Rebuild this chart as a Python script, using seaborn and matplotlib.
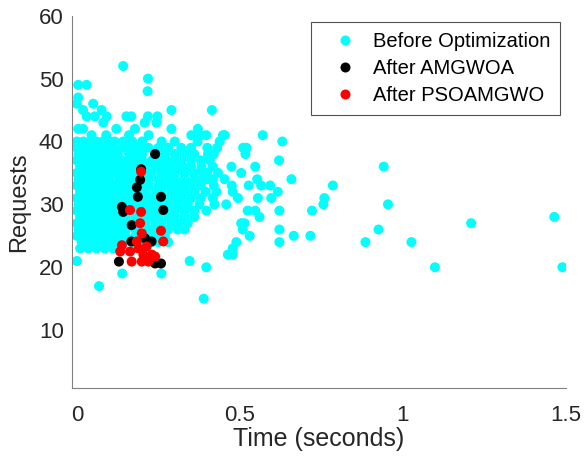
import numpy as np
import pandas as pd
import matplotlib
matplotlib.use("Agg")
import matplotlib.pyplot as plt
import seaborn as sns

# Response time (s) and request count for each run, before optimisation
before_time = [
    0.142,
    0.218,
    0.004, 0.030,
    0.217,
    0.004,
    0.000, 0.050,
    0.019, 0.076, 0.290, 0.414,
    0.030, 0.055, 0.091, 0.152, 0.167, 0.218, 0.247,
    0.081, 0.208, 0.244,
    0.004, 0.019, 0.121, 0.178, 0.290, 0.371,
    0.045, 0.351, 0.380, 0.397, 0.448, 0.453, 0.570,
    0.000, 0.020, 0.040, 0.060, 0.080, 0.100, 0.116, 0.142, 0.438, 0.630,
    0.000, 0.020, 0.045, 0.070, 0.090, 0.115, 0.140, 0.220, 0.250, 0.350, 0.400, 0.430, 0.510, 0.520,
    0.005, 0.030, 0.050, 0.075, 0.100, 0.125, 0.160, 0.240, 0.330, 0.360, 0.402, 0.420, 0.517,
    0.000, 0.020, 0.040, 0.065, 0.085, 0.110, 0.135, 0.155, 0.180, 0.275, 0.350, 0.407, 0.620,
    0.010, 0.035, 0.060, 0.080, 0.100, 0.125, 0.150, 0.170, 0.285, 0.315, 0.325, 0.382, 0.417, 0.474, 0.547, 0.941,
    0.000, 0.025, 0.050, 0.070, 0.095, 0.120, 0.140, 0.165, 0.190, 0.260, 0.300, 0.360, 0.433, 0.504, 0.382,
    0.005, 0.030, 0.055, 0.080, 0.100, 0.130, 0.150, 0.175, 0.250, 0.280, 0.330, 0.380, 0.417, 0.453, 0.553, 0.658,
    0.000, 0.020, 0.045, 0.070, 0.090, 0.115, 0.140, 0.160, 0.220, 0.270, 0.310, 0.350, 0.475, 0.527, 0.565, 0.593, 0.785,
    0.010, 0.035, 0.060, 0.085, 0.105, 0.130, 0.150, 0.210, 0.240, 0.290, 0.330, 0.395, 0.428, 0.478, 0.616,
    0.000, 0.025, 0.050, 0.070, 0.095, 0.120, 0.145, 0.170, 0.220, 0.300, 0.320, 0.350, 0.417, 0.494, 0.555, 0.596, 0.759,
    0.005, 0.030, 0.055, 0.080, 0.100, 0.125, 0.150, 0.180, 0.250, 0.280, 0.310, 0.376, 0.422, 0.458, 0.756, 0.954,
    0.000, 0.020, 0.045, 0.065, 0.090, 0.110, 0.135, 0.210, 0.270, 0.330, 0.397, 0.524, 0.547, 0.621, 0.721,
    0.010, 0.035, 0.060, 0.080, 0.105, 0.130, 0.230, 0.300, 0.360, 0.560, 1.464,
    0.000, 0.025, 0.050, 0.070, 0.095, 0.120, 0.160, 0.240, 0.290, 0.340, 0.504, 0.514, 1.209,
    0.005, 0.030, 0.055, 0.080, 0.100, 0.125, 0.220, 0.280, 0.310, 0.509, 0.621, 0.925,
    0.000, 0.020, 0.045, 0.070, 0.090, 0.115, 0.150, 0.200, 0.270, 0.530, 0.665, 0.716,
    0.015, 0.040, 0.060, 0.085, 0.110, 0.140, 0.250, 0.489, 0.621, 0.885, 1.026,
    0.010, 0.035, 0.060, 0.478,
    0.463, 0.478,
    0.000, 0.346,
    0.397, 1.098, 1.489,
    0.139, 0.259,
    0.068,
    0.389,
    # runs in the 0.13-0.42 s band
    0.090, 0.160, 0.220,
    0.170, 0.200, 0.260, 0.300, 0.370,
    0.165, 0.190, 0.280, 0.320,
    0.180, 0.200, 0.270, 0.300,
    0.200, 0.230, 0.250, 0.300, 0.320, 0.380,
    0.190, 0.210, 0.240, 0.260, 0.350,
    0.210, 0.230, 0.280, 0.330, 0.400,
    0.200, 0.220, 0.300, 0.360, 0.400,
    0.180, 0.200, 0.250, 0.290, 0.330, 0.380, 0.420,
    0.170, 0.190, 0.260, 0.310, 0.360,
    0.200, 0.240, 0.270, 0.380,
    0.170, 0.200, 0.220, 0.340,
    0.160, 0.180, 0.230, 0.250, 0.300, 0.360,
    0.150, 0.180, 0.210, 0.250, 0.280, 0.330,
    0.140, 0.180, 0.210, 0.260, 0.310,
    0.150, 0.180, 0.250, 0.330,
    0.130, 0.180, 0.230, 0.250,
    0.170, 0.200, 0.230, 0.280,
    0.085, 0.110,
]
before_req = [
    52,
    50,
    49, 49,
    48,
    47,
    46, 46,
    45, 45, 45, 45,
    44, 44, 44, 44, 44, 44, 44,
    43, 43, 43,
    42, 42, 42, 42, 42, 42,
    41, 41, 41, 41, 41, 41, 41,
    40, 40, 40, 40, 40, 40, 40, 40, 40, 40,
    39, 39, 39, 39, 39, 39, 39, 39, 39, 39, 39, 39, 39, 39,
    38, 38, 38, 38, 38, 38, 38, 38, 38, 38, 38, 38, 38,
    37, 37, 37, 37, 37, 37, 37, 37, 37, 37, 37, 37, 37,
    36, 36, 36, 36, 36, 36, 36, 36, 36, 36, 36, 36, 36, 36, 36, 36,
    35, 35, 35, 35, 35, 35, 35, 35, 35, 35, 35, 35, 35, 35, 35,
    34, 34, 34, 34, 34, 34, 34, 34, 34, 34, 34, 34, 34, 34, 34, 34,
    33, 33, 33, 33, 33, 33, 33, 33, 33, 33, 33, 33, 33, 33, 33, 33, 33,
    32, 32, 32, 32, 32, 32, 32, 32, 32, 32, 32, 32, 32, 32, 32,
    31, 31, 31, 31, 31, 31, 31, 31, 31, 31, 31, 31, 31, 31, 31, 31, 31,
    30, 30, 30, 30, 30, 30, 30, 30, 30, 30, 30, 30, 30, 30, 30, 30,
    29, 29, 29, 29, 29, 29, 29, 29, 29, 29, 29, 29, 29, 29, 29,
    28, 28, 28, 28, 28, 28, 28, 28, 28, 28, 28,
    27, 27, 27, 27, 27, 27, 27, 27, 27, 27, 27, 27, 27,
    26, 26, 26, 26, 26, 26, 26, 26, 26, 26, 26, 26,
    25, 25, 25, 25, 25, 25, 25, 25, 25, 25, 25, 25,
    24, 24, 24, 24, 24, 24, 24, 24, 24, 24, 24,
    23, 23, 23, 23,
    22, 22,
    21, 21,
    20, 20, 20,
    19, 19,
    17,
    15,
    # runs in the 0.13-0.42 s band
    41, 41, 41,
    40, 40, 40, 40, 40,
    39, 39, 39, 39,
    38, 38, 38, 38,
    37, 37, 37, 37, 37, 37,
    36, 36, 36, 36, 36,
    35, 35, 35, 35, 35,
    34, 34, 34, 34, 34,
    33, 33, 33, 33, 33, 33, 33,
    32, 32, 32, 32, 32,
    31, 31, 31, 31,
    30, 30, 30, 30,
    29, 29, 29, 29, 29, 29,
    28, 28, 28, 28, 28, 28,
    27, 27, 27, 27, 27,
    26, 26, 26, 26,
    25, 25, 25, 25,
    24, 24, 24, 24,
    23, 23,
]

# After AMGWOA
amgwoa_time = [0.240, 0.197, 0.194, 0.184, 0.187, 0.258, 0.138, 0.142,
               0.265, 0.168, 0.167, 0.209, 0.229, 0.129, 0.240, 0.258]
amgwoa_req = [38, 35.6, 33.9, 32.7, 31.2, 31.2, 29.6, 28.8,
              29.1, 26.7, 24.1, 24.6, 24.1, 20.9, 20.6, 20.6]

# After PSOAMGWO
pso_time = [0.197, 0.163, 0.197, 0.194, 0.199, 0.258, 0.265, 0.138, 0.133, 0.163,
            0.189, 0.204, 0.230, 0.168, 0.199, 0.219, 0.240, 0.184, 0.214]
pso_req = [35.2, 29.1, 28.8, 27.0, 25.4, 25.8, 24.1, 23.5, 22.5, 22.5,
           23.0, 22.0, 22.0, 20.9, 20.9, 20.9, 21.7, 24.1, 23.3]

groups = ["Before Optimization", "After AMGWOA", "After PSOAMGWO"]
colors = ["#00FFFF", "#000000", "#FF0000"]

df = pd.concat([
    pd.DataFrame({"Time": before_time, "Requests": before_req, "Group": groups[0]}),
    pd.DataFrame({"Time": amgwoa_time, "Requests": amgwoa_req, "Group": groups[1]}),
    pd.DataFrame({"Time": pso_time, "Requests": pso_req, "Group": groups[2]}),
], ignore_index=True)

sns.set_style("white")
plt.rcParams["font.family"] = ["Liberation Sans", "DejaVu Sans"]

fig = plt.figure(figsize=(5.88, 4.62), dpi=100)
ax = fig.add_axes([0.1224, 0.1602, 0.8402, 0.8058])

sns.scatterplot(data=df, x="Time", y="Requests", hue="Group", hue_order=groups,
                palette=dict(zip(groups, colors)), s=52, linewidth=0, alpha=1,
                ax=ax, legend=True)

ax.set_xlim(-0.015, 1.5)
ax.set_ylim(0.8, 60)
ax.set_xticks([0, 0.5, 1, 1.5])
ax.set_xticklabels(["0", "0.5", "1", "1.5"])
ax.set_yticks([10, 20, 30, 40, 50, 60])

for side in ["top", "right"]:
    ax.spines[side].set_visible(False)
for side in ["left", "bottom"]:
    ax.spines[side].set_color("#808080")
    ax.spines[side].set_linewidth(0.8)

ax.tick_params(direction="in", length=4, width=0.8, color="#808080",
               labelsize=16, labelcolor="#262626")
ax.tick_params(axis="x", pad=12)
ax.tick_params(axis="y", pad=6)
ax.set_xlabel("Time (seconds)", fontsize=18, color="#262626", labelpad=1)
ax.set_ylabel("Requests", fontsize=17, color="#262626", labelpad=6)

leg = ax.legend(loc="upper right", bbox_to_anchor=(0.988, 0.984),
                borderaxespad=0, fontsize=14.5,
                frameon=True, fancybox=False, edgecolor="#262626",
                handlelength=2.4, handletextpad=0.15, borderpad=0.5,
                labelspacing=0.4, markerscale=1.0)
leg.get_frame().set_linewidth(0.8)
for t in leg.get_texts():
    t.set_color("#000000")

fig.savefig("out.png", dpi=100)
